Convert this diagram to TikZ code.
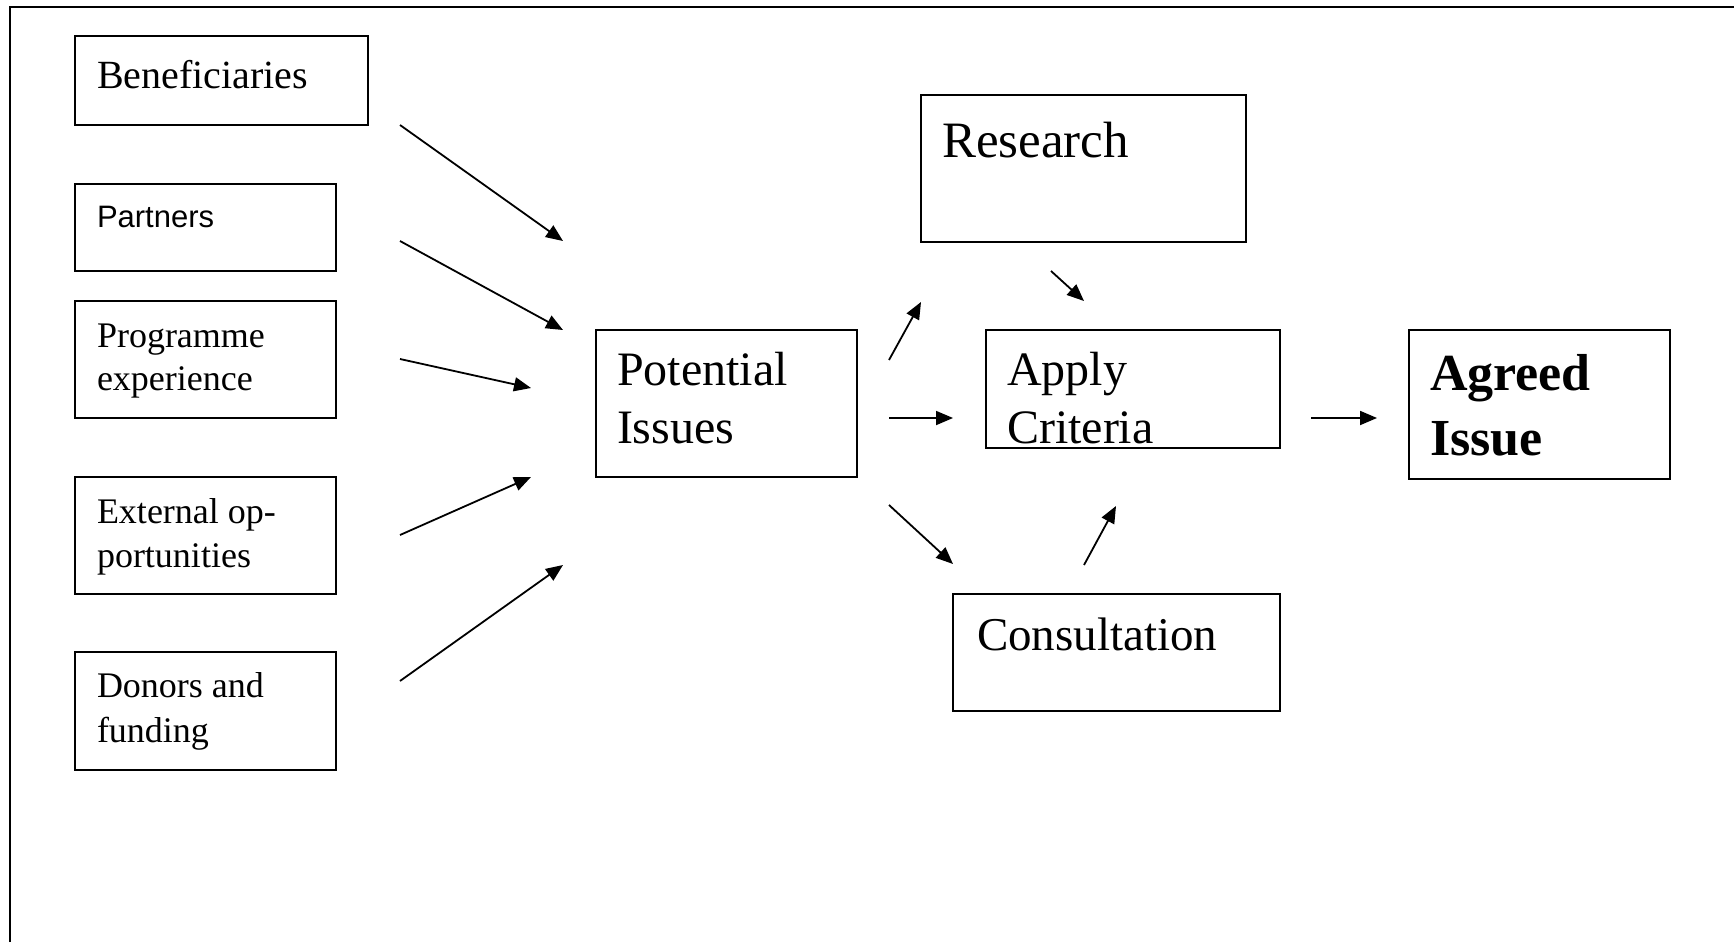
\documentclass[tikz,border=0pt]{standalone}
\usepackage{fontspec}
\setmainfont{Liberation Serif}
\newfontfamily\partnerfont{Liberation Sans}
\usetikzlibrary{arrows.meta,fit}

% one text block, anchored at the baseline of its first line
\newcommand{\blocktext}[3]{\parbox[t]{12cm}{\raggedright\fontsize{#1}{#2}\selectfont #3}}

\begin{document}
\begin{tikzpicture}[
  x=0.5pt, y=-0.5pt,
  box/.style={draw=black, line width=1pt, inner sep=0pt, rectangle},
  lbl/.style={anchor=base west, inner sep=0pt, outer sep=0pt},
  flow/.style={draw=black, line width=0.9pt, -{Triangle[length=8.5pt,width=7pt]}}
]
\useasboundingbox (0,0) rectangle (1734,942);
\fill[white] (0,0) rectangle (1734,942);

% open frame: left and top edges only
\draw[line width=1.3pt] (10,942) -- (10,7) -- (1734,7);

% boxes
\node[box, fit={(75,36) (368,125)}]   (ben) {};
\node[box, fit={(75,184) (336,271)}]  (par) {};
\node[box, fit={(75,301) (336,418)}]  (pro) {};
\node[box, fit={(75,477) (336,594)}]  (ext) {};
\node[box, fit={(75,652) (336,770)}]  (don) {};
\node[box, fit={(596,330) (857,477)}] (pot) {};
\node[box, fit={(921,95) (1246,242)}] (res) {};
\node[box, fit={(986,330) (1280,448)}] (app) {};
\node[box, fit={(953,594) (1280,711)}] (con) {};
\node[box, fit={(1409,330) (1670,479)}] (agr) {};

% box texts
\node[lbl] (benT) at (97,88)  {\blocktext{20}{24}{Beneficiaries}};
\node[lbl] (parT) at (97,227) {\blocktext{15.5}{18}{\partnerfont Partners}};
\node[lbl] (proT) at (97,347) {\blocktext{18}{21.5}{Programme\\experience}};
\node[lbl] (extT) at (97,523) {\blocktext{18}{22}{External op-\\portunities}};
\node[lbl] (donT) at (97,697) {\blocktext{18}{22.5}{Donors and\\funding}};
\node[lbl] (potT) at (617,385) {\blocktext{24}{29}{Potential\\Issues}};
\node[lbl] (resT) at (942,157) {\blocktext{25.5}{30}{Research}};
\node[lbl] (appT) at (1007,385) {\blocktext{24}{29}{Apply\\Criteria}};
\node[lbl] (conT) at (977,650) {\blocktext{23.5}{29}{Consultation}};
\node[lbl] (agrT) at (1430,390) {\blocktext{26}{32.5}{\bfseries Agreed\\Issue}};

% free arrow ends
\coordinate (a1s) at (400,125);  \coordinate (a1e) at (563,241);
\coordinate (a2s) at (400,241);  \coordinate (a2e) at (563,330);
\coordinate (a3s) at (400,359);  \coordinate (a3e) at (531,388);
\coordinate (a4s) at (400,535);  \coordinate (a4e) at (531,477);
\coordinate (a5s) at (400,681);  \coordinate (a5e) at (563,565);
\coordinate (a6s) at (889,360);  \coordinate (a6e) at (921,302);
\coordinate (a7s) at (889,418);  \coordinate (a7e) at (953,418);
\coordinate (a8s) at (889,505);  \coordinate (a8e) at (953,564);
\coordinate (a9s) at (1051,271); \coordinate (a9e) at (1084,301);
\coordinate (a10s) at (1084,565); \coordinate (a10e) at (1116,506);
\coordinate (a11s) at (1311,418); \coordinate (a11e) at (1377,418);

% arrows
\foreach \i in {1,...,11}
  \draw[flow] (a\i s) -- (a\i e);
\end{tikzpicture}
\end{document}
